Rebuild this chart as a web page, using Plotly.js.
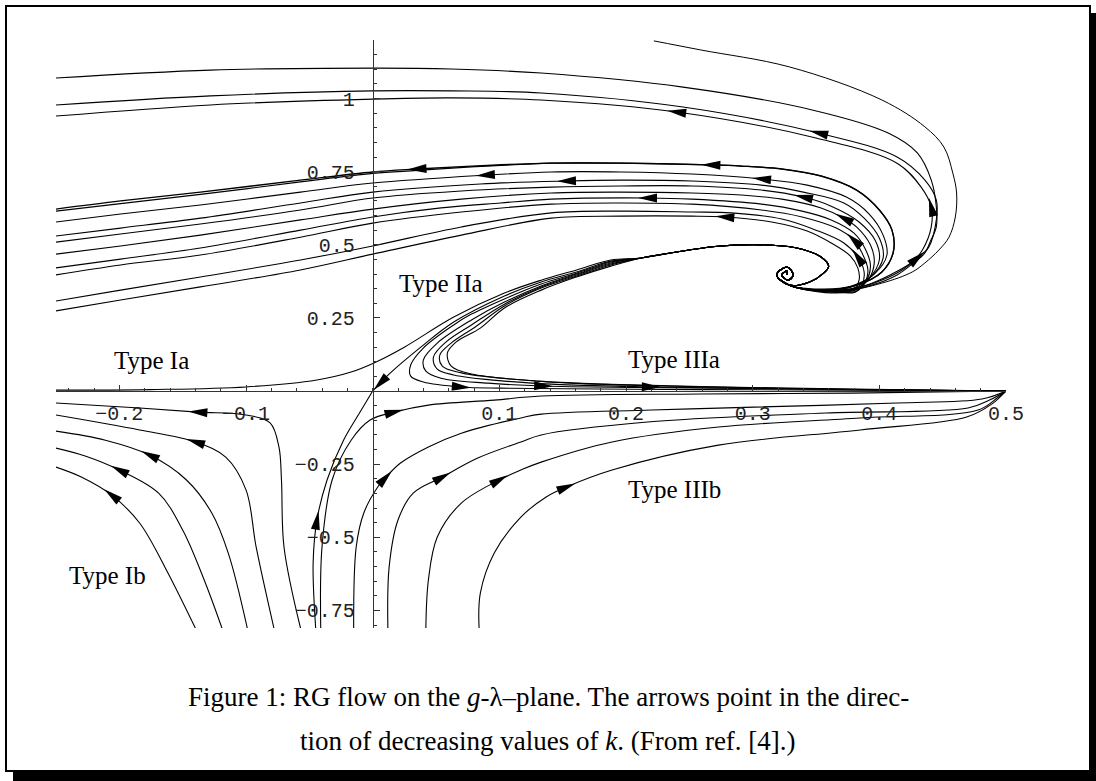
<!DOCTYPE html>
<html>
<head>
<meta charset="utf-8">
<script src="https://cdn.plot.ly/plotly-3.0.1.min.js"></script>
<style>
  html, body { margin: 0; padding: 0; background: #fff; }
  #shadow { position: absolute; left: 13px; top: 13px; width: 1083px; height: 768px; background: #000; }
  #frame  { position: absolute; left: 5px; top: 5px; width: 1082px; height: 763px; border: 2px solid #000; background: #fff; }
  #chart  { position: absolute; left: 0; top: 0; width: 1096px; height: 781px; }
</style>
</head>
<body>
<div id="shadow"></div>
<div id="frame"></div>
<div id="chart"></div>
<script>
// ---- RG trajectories on the (lambda, g) plane ----

// innermost turns around the non-Gaussian fixed point
const SPIRAL_LAM = [0.327, 0.327, 0.323, 0.328, 0.332, 0.327, 0.319, 0.329];
const SPIRAL_G   = [0.397, 0.410, 0.397, 0.379, 0.397, 0.424, 0.397, 0.362];

// common stem of the bundle that heads towards the Gaussian fixed point
const CORE_LAM = [0.345, 0.356, 0.360, 0.354, 0.339, 0.313, 0.275, 0.245, 0.212];
const CORE_G   = [0.373, 0.403, 0.427, 0.458, 0.485, 0.499, 0.496, 0.479, 0.455];

// bundle members after the stem
const IA_LAM = [0.188, 0.161, 0.133, 0.104, 0.064, 0.025, 0.001, -0.017, -0.044, -0.100, -0.176, -0.250];
const IA_G   = [0.448, 0.414, 0.379, 0.335, 0.253, 0.150, 0.096, 0.065, 0.038, 0.014, 0.005, 0.003];
const IIA_LAM = [0.188, 0.161, 0.133, 0.104, 0.064, 0.038, 0.014, 0.006, 0.000];
const IIA_G   = [0.444, 0.407, 0.373, 0.325, 0.236, 0.150, 0.062, 0.027, 0.000];
const IIIA1_LAM = [0.188, 0.161, 0.133, 0.104, 0.078, 0.064, 0.040, 0.030, 0.030, 0.040, 0.070, 0.101, 0.180, 0.259, 0.378, 0.500];
const IIIA1_G   = [0.441, 0.403, 0.366, 0.315, 0.263, 0.226, 0.147, 0.089, 0.051, 0.031, 0.014, 0.010, 0.007, 0.005, 0.003, 0.000];
const IIIA2_LAM = [0.188, 0.161, 0.133, 0.104, 0.078, 0.051, 0.040, 0.042, 0.054, 0.091, 0.135, 0.212, 0.339, 0.500];
const IIIA2_G   = [0.438, 0.400, 0.359, 0.304, 0.243, 0.164, 0.106, 0.068, 0.044, 0.027, 0.017, 0.012, 0.007, 0.000];
const IIIA3_LAM = [0.188, 0.161, 0.133, 0.104, 0.078, 0.058, 0.048, 0.051, 0.064, 0.104, 0.149, 0.220, 0.339, 0.500];
const IIIA3_G   = [0.434, 0.397, 0.356, 0.297, 0.226, 0.168, 0.116, 0.075, 0.055, 0.034, 0.022, 0.014, 0.007, 0.000];
const IIIA4_LAM = [0.188, 0.161, 0.133, 0.104, 0.081, 0.062, 0.053, 0.055, 0.070, 0.109, 0.157, 0.228, 0.354, 0.500];
const IIIA4_G   = [0.431, 0.393, 0.352, 0.291, 0.219, 0.164, 0.123, 0.085, 0.062, 0.041, 0.027, 0.017, 0.007, 0.000];
const IIIA5_LAM = [0.188, 0.161, 0.133, 0.104, 0.085, 0.066, 0.059, 0.062, 0.078, 0.131, 0.180, 0.259, 0.378, 0.500];
const IIIA5_G   = [0.427, 0.390, 0.345, 0.284, 0.215, 0.168, 0.130, 0.085, 0.058, 0.034, 0.024, 0.015, 0.007, 0.000];

// trajectories that wind out of the spiral and leave to the left (large g)
const U1_LAM = [0.370, 0.402, 0.426, 0.436, 0.447, 0.455, 0.460, 0.461, 0.458, 0.451, 0.436, 0.402, 0.329, 0.259, 0.222];
const U1_G   = [0.342, 0.369, 0.407, 0.438, 0.482, 0.526, 0.595, 0.677, 0.745, 0.834, 0.903, 0.995, 1.108, 1.166, 1.197];
const L1_LAM = [0.370, 0.394, 0.414, 0.427, 0.436, 0.440, 0.445, 0.445, 0.441, 0.430, 0.407, 0.347, 0.245, 0.133, 0.062, 0.000, -0.128, -0.250];
const L1_G   = [0.342, 0.362, 0.397, 0.438, 0.472, 0.509, 0.561, 0.629, 0.721, 0.814, 0.882, 0.961, 1.039, 1.087, 1.101, 1.104, 1.097, 1.070];
const L2_LAM = [0.348, 0.374, 0.398, 0.418, 0.430, 0.439, 0.445, 0.445, 0.436, 0.414, 0.352, 0.245, 0.133, 0.062, 0.000, -0.128, -0.250];
const L2_G   = [0.345, 0.345, 0.373, 0.414, 0.455, 0.492, 0.585, 0.653, 0.721, 0.800, 0.882, 0.971, 1.019, 1.026, 1.026, 1.009, 0.978];
const L3_LAM = [0.345, 0.366, 0.390, 0.410, 0.426, 0.434, 0.441, 0.441, 0.433, 0.414, 0.350, 0.240, 0.133, 0.062, 0.000, -0.128, -0.250];
const L3_G   = [0.345, 0.342, 0.362, 0.400, 0.441, 0.482, 0.561, 0.629, 0.697, 0.779, 0.865, 0.954, 0.995, 1.002, 0.998, 0.978, 0.940];
const L4_LAM = [0.354, 0.382, 0.402, 0.411, 0.410, 0.400, 0.382, 0.354, 0.323, 0.291, 0.267, 0.196, 0.141, 0.078, 0.035, 0.000, -0.057, -0.136, -0.199, -0.250];
const L4_G   = [0.345, 0.362, 0.407, 0.475, 0.550, 0.619, 0.687, 0.735, 0.759, 0.769, 0.773, 0.779, 0.779, 0.769, 0.759, 0.749, 0.721, 0.680, 0.650, 0.622];
const L4B_LAM = [0.354, 0.382, 0.402, 0.411, 0.410, 0.400, 0.382, 0.354, 0.323, 0.291, 0.267, 0.196, 0.141, 0.078, 0.035, 0.000, -0.057, -0.136, -0.199, -0.250];
const L4B_G   = [0.345, 0.362, 0.407, 0.475, 0.550, 0.619, 0.687, 0.735, 0.759, 0.769, 0.773, 0.779, 0.779, 0.766, 0.754, 0.744, 0.715, 0.672, 0.641, 0.615];
const L5_LAM = [0.354, 0.378, 0.396, 0.406, 0.403, 0.392, 0.374, 0.343, 0.307, 0.252, 0.196, 0.141, 0.089, 0.000, -0.057, -0.136, -0.199, -0.250];
const L5_G   = [0.349, 0.359, 0.400, 0.465, 0.533, 0.605, 0.663, 0.704, 0.725, 0.742, 0.749, 0.749, 0.738, 0.711, 0.680, 0.636, 0.605, 0.578];
const L6_LAM = [0.356, 0.378, 0.394, 0.403, 0.400, 0.388, 0.372, 0.340, 0.307, 0.252, 0.196, 0.153, 0.085, 0.000, -0.057, -0.136, -0.199, -0.250];
const L6_G   = [0.345, 0.356, 0.393, 0.455, 0.523, 0.591, 0.643, 0.680, 0.704, 0.718, 0.721, 0.718, 0.708, 0.680, 0.643, 0.591, 0.557, 0.530];
const L7_LAM = [0.358, 0.380, 0.392, 0.400, 0.397, 0.384, 0.362, 0.340, 0.307, 0.252, 0.196, 0.141, 0.070, 0.000, -0.057, -0.136, -0.199, -0.250];
const L7_G   = [0.345, 0.352, 0.386, 0.448, 0.513, 0.578, 0.632, 0.663, 0.687, 0.701, 0.701, 0.697, 0.684, 0.660, 0.619, 0.571, 0.537, 0.509];
const L8_LAM = [0.361, 0.381, 0.391, 0.396, 0.393, 0.382, 0.372, 0.354, 0.323, 0.291, 0.252, 0.196, 0.141, 0.070, 0.000, -0.057, -0.136, -0.199, -0.250];
const L8_G   = [0.342, 0.349, 0.379, 0.438, 0.499, 0.561, 0.591, 0.626, 0.656, 0.670, 0.677, 0.680, 0.677, 0.656, 0.622, 0.585, 0.533, 0.496, 0.468];
const L9_LAM = [0.362, 0.381, 0.389, 0.393, 0.389, 0.380, 0.362, 0.339, 0.307, 0.252, 0.217, 0.141, 0.101, 0.054, 0.000, -0.057, -0.136, -0.199, -0.250];
const L9_G   = [0.342, 0.345, 0.373, 0.427, 0.485, 0.540, 0.585, 0.615, 0.639, 0.656, 0.660, 0.656, 0.643, 0.626, 0.595, 0.550, 0.489, 0.451, 0.421];
const L10_LAM = [0.364, 0.382, 0.388, 0.391, 0.386, 0.380, 0.366, 0.339, 0.307, 0.252, 0.196, 0.141, 0.070, 0.000, -0.057, -0.136, -0.199, -0.250];
const L10_G   = [0.338, 0.342, 0.366, 0.414, 0.475, 0.516, 0.557, 0.595, 0.619, 0.639, 0.643, 0.639, 0.612, 0.574, 0.526, 0.465, 0.431, 0.397];
const L11_LAM = [0.365, 0.381, 0.386, 0.388, 0.383, 0.372, 0.350, 0.323, 0.283, 0.252, 0.196, 0.141, 0.070, 0.000, -0.057, -0.136, -0.199, -0.250];
const L11_G   = [0.338, 0.338, 0.359, 0.407, 0.458, 0.506, 0.550, 0.588, 0.609, 0.612, 0.615, 0.609, 0.561, 0.496, 0.448, 0.390, 0.345, 0.308];
const L12_LAM = [0.366, 0.379, 0.384, 0.383, 0.377, 0.362, 0.343, 0.315, 0.278, 0.252, 0.196, 0.141, 0.070, 0.000, -0.057, -0.136, -0.199, -0.250];
const L12_G   = [0.335, 0.345, 0.379, 0.421, 0.462, 0.506, 0.547, 0.578, 0.595, 0.598, 0.598, 0.591, 0.533, 0.468, 0.414, 0.356, 0.311, 0.274];

// negative-g trajectories
const SEPB_LAM = [-0.045, -0.047, -0.044, -0.036, -0.023, -0.009, 0.000];
const SEPB_G   = [-0.810, -0.588, -0.441, -0.304, -0.168, -0.065, 0.000];
const C1_LAM = [-0.041, -0.040, -0.032, -0.017, -0.002, 0.017, 0.044, 0.096, 0.133, 0.259, 0.378, 0.500];
const C1_G   = [-0.810, -0.533, -0.304, -0.168, -0.099, -0.072, -0.048, -0.031, -0.017, -0.010, -0.007, 0.000];
const C2_LAM = [-0.015, -0.013, -0.007, 0.004, 0.010, 0.022, 0.044, 0.070, 0.117, 0.133, 0.220, 0.301, 0.414, 0.481, 0.500];
const C2_G   = [-0.810, -0.533, -0.417, -0.328, -0.297, -0.246, -0.191, -0.144, -0.092, -0.079, -0.065, -0.055, -0.041, -0.027, 0.000];
const C3_LAM = [0.012, 0.013, 0.020, 0.032, 0.055, 0.083, 0.117, 0.133, 0.217, 0.358, 0.470, 0.487, 0.500];
const C3_G   = [-0.810, -0.602, -0.441, -0.349, -0.294, -0.229, -0.174, -0.150, -0.106, -0.075, -0.058, -0.031, 0.000];
const C4_LAM = [0.042, 0.044, 0.051, 0.070, 0.100, 0.117, 0.133, 0.189, 0.273, 0.385, 0.478, 0.493, 0.500];
const C4_G   = [-0.810, -0.646, -0.499, -0.383, -0.304, -0.270, -0.243, -0.174, -0.123, -0.092, -0.065, -0.024, 0.000];
const C5_LAM = [0.084, 0.085, 0.096, 0.117, 0.137, 0.153, 0.189, 0.273, 0.385, 0.469, 0.489, 0.500];
const C5_G   = [-0.810, -0.691, -0.554, -0.431, -0.362, -0.328, -0.270, -0.185, -0.133, -0.089, -0.044, 0.000];
const LB1_LAM = [-0.140, -0.164, -0.184, -0.206, -0.230, -0.250];
const LB1_G   = [-0.810, -0.602, -0.451, -0.356, -0.294, -0.260];
const LB2_LAM = [-0.119, -0.133, -0.150, -0.169, -0.200, -0.227, -0.250];
const LB2_G   = [-0.810, -0.646, -0.475, -0.349, -0.270, -0.222, -0.195];
const LB3_LAM = [-0.099, -0.114, -0.127, -0.147, -0.176, -0.211, -0.250];
const LB3_G   = [-0.810, -0.554, -0.417, -0.304, -0.219, -0.168, -0.137];
const LB4_LAM = [-0.078, -0.092, -0.100, -0.116, -0.140, -0.184, -0.250];
const LB4_G   = [-0.810, -0.533, -0.338, -0.226, -0.174, -0.133, -0.082];
const LB5_LAM = [-0.057, -0.070, -0.072, -0.074, -0.081, -0.100, -0.138, -0.184, -0.250];
const LB5_G   = [-0.810, -0.533, -0.304, -0.191, -0.109, -0.082, -0.072, -0.058, -0.041];

// axis ticks
const X_TICKS = [-0.2, -0.1, 0.1, 0.2, 0.3, 0.4, 0.5];
const X_TICK_TEXT = ['\u22120.2', '\u22120.1', '0.1', '0.2', '0.3', '0.4', '0.5'];
const Y_TICKS = [-0.75, -0.5, -0.25, 0.25, 0.5, 0.75, 1];
const Y_TICK_TEXT = ['\u22120.75', '\u22120.5', '\u22120.25', '0.25', '0.5', '0.75', '1'];

// ---- assembly ----
const X_RANGE = [-0.25, 0.5];
const Y_RANGE = [-0.81, 1.2];
const MARGIN = {l: 56, r: 90, t: 40, b: 153};
const FIG_W = 1096, FIG_H = 781;
const PLOT_W = FIG_W - MARGIN.l - MARGIN.r;
const PLOT_H = FIG_H - MARGIN.t - MARGIN.b;
const KX = PLOT_W / (X_RANGE[1] - X_RANGE[0]);
const KY = PLOT_H / (Y_RANGE[1] - Y_RANGE[0]);

const spiral = [SPIRAL_LAM, SPIRAL_G];
const stem = [SPIRAL_LAM.concat(CORE_LAM), SPIRAL_G.concat(CORE_G)];
const none = [[], []];

// [prefix, lam, g, line width, arrow indices into own list]
const flows = [
  [stem, IA_LAM, IA_G, 1.1, []],
  [stem, IIA_LAM, IIA_G, 1.1, [7]],
  [stem, IIIA1_LAM, IIIA1_G, 1.1, [10]],
  [stem, IIIA2_LAM, IIIA2_G, 1.1, [10]],
  [stem, IIIA3_LAM, IIIA3_G, 1.1, [11]],
  [stem, IIIA4_LAM, IIIA4_G, 1.1, []],
  [stem, IIIA5_LAM, IIIA5_G, 1.1, []],
  [spiral, U1_LAM, U1_G, 1.0, []],
  [spiral, L1_LAM, L1_G, 1.1, []],
  [spiral, L2_LAM, L2_G, 1.1, [10, 4]],
  [spiral, L3_LAM, L3_G, 1.1, [11, 7]],
  [spiral, L4_LAM, L4_G, 1.4, [14, 10]],
  [spiral, L4B_LAM, L4B_G, 1.2, []],
  [spiral, L5_LAM, L5_G, 1.1, [12, 8]],
  [spiral, L6_LAM, L6_G, 1.1, [11]],
  [spiral, L7_LAM, L7_G, 1.1, [7]],
  [spiral, L8_LAM, L8_G, 1.1, [6]],
  [spiral, L9_LAM, L9_G, 1.1, [10]],
  [spiral, L10_LAM, L10_G, 1.1, [5]],
  [spiral, L11_LAM, L11_G, 1.1, [4]],
  [spiral, L12_LAM, L12_G, 1.1, [8]],
  [none, SEPB_LAM, SEPB_G, 1.1, [2]],
  [none, C1_LAM, C1_G, 1.1, [5]],
  [none, C2_LAM, C2_G, 1.1, [4]],
  [none, C3_LAM, C3_G, 1.1, [4]],
  [none, C4_LAM, C4_G, 1.1, [4]],
  [none, C5_LAM, C5_G, 1.1, [5]],
  [none, LB1_LAM, LB1_G, 1.1, [3]],
  [none, LB2_LAM, LB2_G, 1.1, [4]],
  [none, LB3_LAM, LB3_G, 1.1, [4]],
  [none, LB4_LAM, LB4_G, 1.1, [4]],
  [none, LB5_LAM, LB5_G, 1.1, [6]]
];

const traces = [];
const shapes = [];
const ARROW_LEN = 19, ARROW_W = 9;

function arrowAt(lam, g, k) {
  const i0 = Math.max(0, k - 1), i1 = Math.min(lam.length - 1, k + 1);
  let dx = (lam[i1] - lam[i0]) * KX;
  let dy = (g[i1] - g[i0]) * KY;
  const n = Math.hypot(dx, dy) || 1;
  dx /= n; dy /= n;
  const nx = -dy, ny = dx;
  const tx = dx * ARROW_LEN / 2, ty = dy * ARROW_LEN / 2;
  const bx = -tx, by = -ty;
  const f = v => v.toFixed(2);
  const path = 'M' + f(tx) + ',' + f(ty) +
               ' L' + f(bx + nx * ARROW_W / 2) + ',' + f(by + ny * ARROW_W / 2) +
               ' L' + f(bx - nx * ARROW_W / 2) + ',' + f(by - ny * ARROW_W / 2) + ' Z';
  return {
    type: 'path', xref: 'x', yref: 'y',
    xsizemode: 'pixel', ysizemode: 'pixel',
    xanchor: lam[k], yanchor: g[k],
    path: path, fillcolor: '#000', line: {width: 0}, layer: 'above'
  };
}

flows.forEach(([pre, lam, g, w, arrows]) => {
  const X = pre[0].concat(lam);
  const Y = pre[1].concat(g);
  traces.push({
    x: X, y: Y, type: 'scatter', mode: 'lines',
    line: {color: '#000', width: w, shape: 'spline', smoothing: 1},
    hoverinfo: 'skip', showlegend: false
  });
  arrows.forEach(k => shapes.push(arrowAt(X, Y, pre[0].length + k)));
});

const serif = 'Liberation Serif, Times New Roman, serif';
const mono = 'Liberation Mono, Courier New, monospace';
function px2paperX(px) { return (px - MARGIN.l) / PLOT_W; }
function px2paperY(py) { return 1 - (py - MARGIN.t) / PLOT_H; }

const regionLabels = [
  ['Type Ia', -0.175, 0.103],
  ['Type IIa', 0.054, 0.366],
  ['Type IIIa', 0.238, 0.109],
  ['Type IIIb', 0.238, -0.338],
  ['Type Ib', -0.209, -0.63]
];

const annotations = regionLabels.map(([t, x, y]) => ({
  text: t, x: x, y: y, xref: 'x', yref: 'y', showarrow: false,
  xanchor: 'center', yanchor: 'middle',
  font: {family: serif, size: 25, color: '#000'}
}));

annotations.push(
  {text: '<i>g</i>', x: 0.004, y: 1.255, xref: 'x', yref: 'y', showarrow: false,
   xanchor: 'center', yanchor: 'middle', font: {family: serif, size: 26, color: '#000'}},
  {text: '\u03bb', x: 0.534, y: -0.03, xref: 'x', yref: 'y', showarrow: false,
   xanchor: 'center', yanchor: 'middle', font: {family: serif, size: 25, color: '#000'}},
  {text: 'Figure 1: RG flow on the <i>g</i>-\u03bb\u2013plane. The arrows point in the direc-',
   x: px2paperX(548), y: px2paperY(697), xref: 'paper', yref: 'paper', showarrow: false,
   xanchor: 'center', yanchor: 'middle', font: {family: serif, size: 27, color: '#000'}},
  {text: 'tion of decreasing values of <i>k</i>. (From ref. [4].)',
   x: px2paperX(548), y: px2paperY(741), xref: 'paper', yref: 'paper', showarrow: false,
   xanchor: 'center', yanchor: 'middle', font: {family: serif, size: 27, color: '#000'}}
);

const axisCommon = {
  anchor: 'free', showline: true, linecolor: '#333', linewidth: 1,
  zeroline: false, showgrid: false, ticks: 'inside', ticklen: 6, tickwidth: 1,
  tickcolor: '#333', tickmode: 'array',
  tickfont: {family: mono, size: 20, color: '#222'}, fixedrange: true
};

const layout = {
  width: FIG_W, height: FIG_H, margin: MARGIN,
  paper_bgcolor: 'rgba(0,0,0,0)', plot_bgcolor: 'rgba(0,0,0,0)',
  showlegend: false,
  xaxis: Object.assign({}, axisCommon, {
    range: X_RANGE, position: (0 - Y_RANGE[0]) / (Y_RANGE[1] - Y_RANGE[0]),
    tickvals: X_TICKS, ticktext: X_TICK_TEXT, ticklabelstandoff: 4,
    minor: {ticks: 'inside', ticklen: 3.5, tickwidth: 1, tickcolor: '#333', dtick: 0.02, tick0: 0, showgrid: false}
  }),
  yaxis: Object.assign({}, axisCommon, {
    range: Y_RANGE, position: (0 - X_RANGE[0]) / (X_RANGE[1] - X_RANGE[0]),
    tickvals: Y_TICKS, ticktext: Y_TICK_TEXT, ticklabelstandoff: 14,
    minor: {ticks: 'inside', ticklen: 3.5, tickwidth: 1, tickcolor: '#333', dtick: 0.05, tick0: 0, showgrid: false}
  }),
  shapes: shapes,
  annotations: annotations
};

Plotly.newPlot('chart', traces, layout, {displayModeBar: false, staticPlot: true});
</script>
</body>
</html>
